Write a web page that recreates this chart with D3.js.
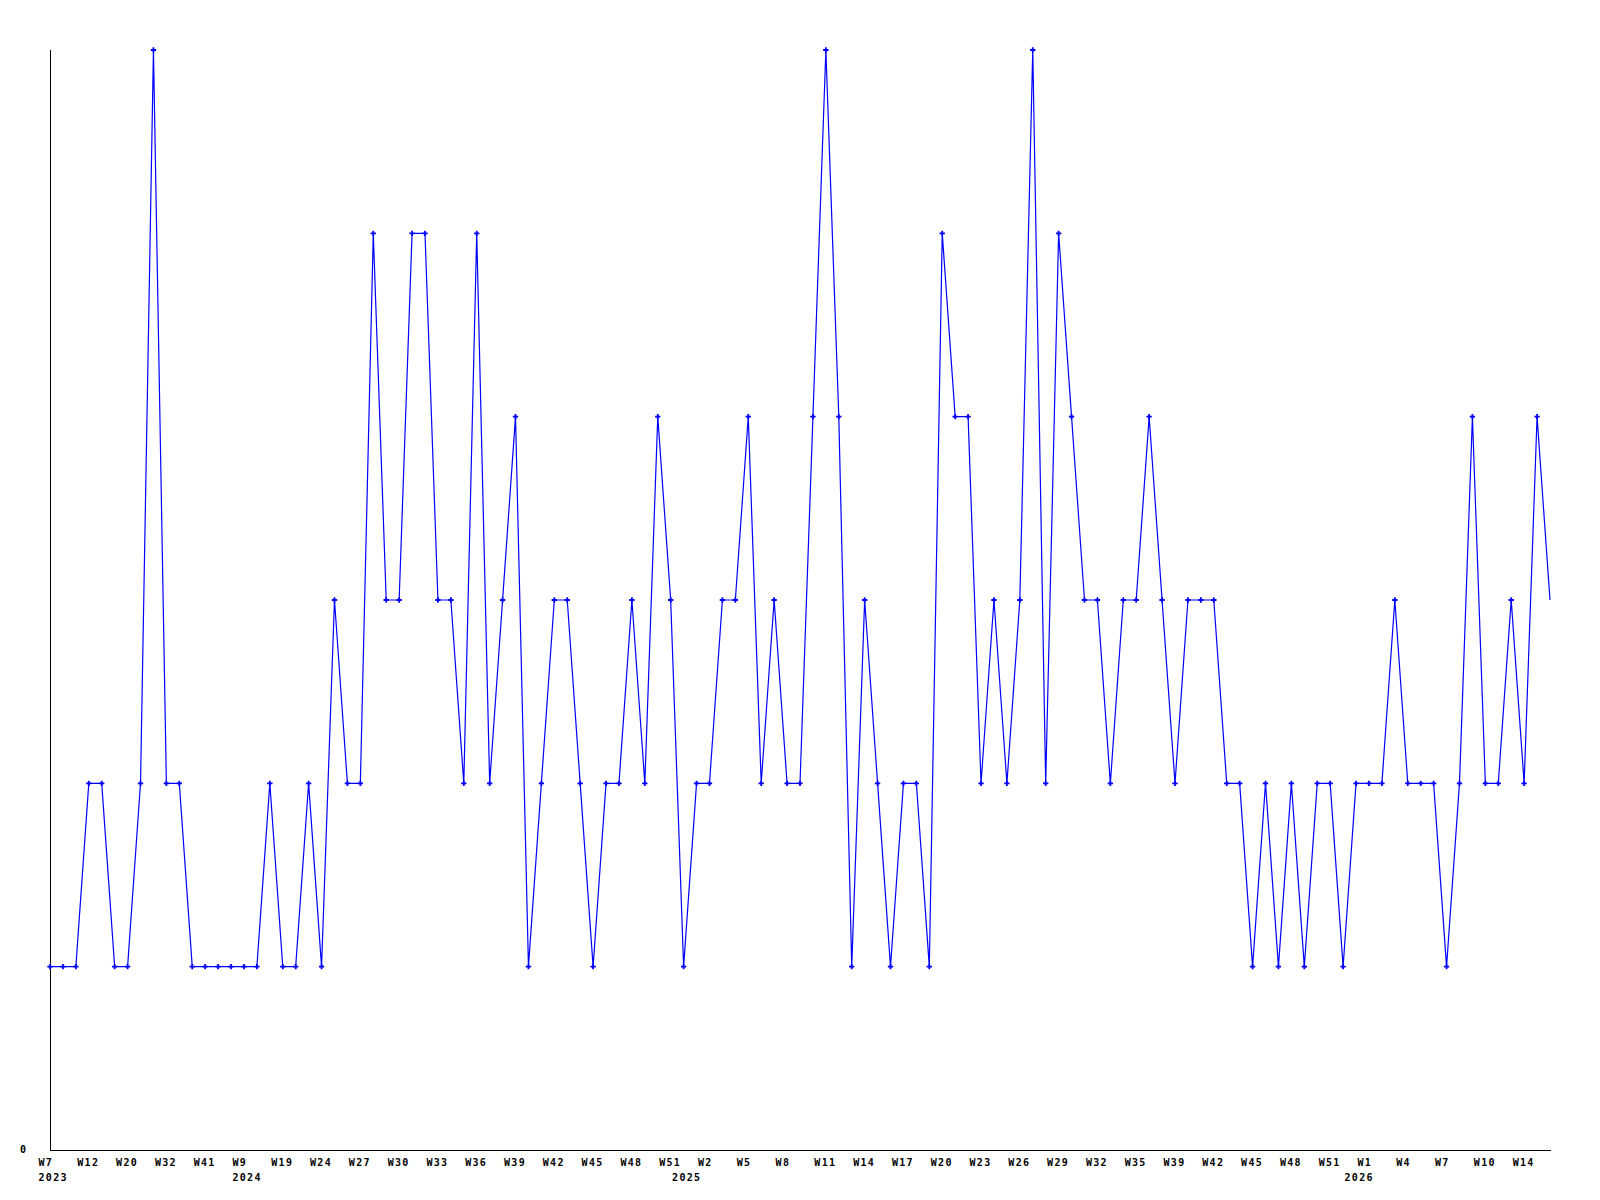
<!DOCTYPE html>
<html>
<head>
<meta charset="utf-8">
<script src="https://cdn.jsdelivr.net/npm/d3@7"></script>
<style>
  body { margin: 0; background: #fff; }
  svg text { font-family: "DejaVu Sans Mono", monospace; font-weight: bold; font-size: 10px; letter-spacing: 1.3px; fill: #000; }
</style>
</head>
<body>
<svg width="1600" height="1200"></svg>
<script>
// weekly counts, one per point
var values = [
    1, 1, 1, 2, 2, 1, 1, 2, 6, 2,
    2, 1, 1, 1, 1, 1, 1, 2, 1, 1,
    2, 1, 3, 2, 2, 5, 3, 3, 5, 5,
    3, 3, 2, 5, 2, 3, 4, 1, 2, 3,
    3, 2, 1, 2, 2, 3, 2, 4, 3, 1,
    2, 2, 3, 3, 4, 2, 3, 2, 2, 4,
    6, 4, 1, 3, 2, 1, 2, 2, 1, 5,
    4, 4, 2, 3, 2, 3, 6, 2, 5, 4,
    3, 3, 2, 3, 3, 4, 3, 2, 3, 3,
    3, 2, 2, 1, 2, 1, 2, 1, 2, 2,
    1, 2, 2, 2, 3, 2, 2, 2, 1, 2,
    4, 2, 2, 3, 2, 4, 3
];

// a week label on every third point
var tickLabels = [
    "W7", "W12", "W20", "W32", "W41",
    "W9", "W19", "W24", "W27", "W30", "W33", "W36", "W39", "W42", "W45", "W48", "W51",
    "W2", "W5", "W8", "W11", "W14", "W17", "W20", "W23", "W26", "W29", "W32", "W35", "W39", "W42", "W45", "W48", "W51",
    "W1", "W4", "W7", "W10", "W14"
];
var tickStep = 3;

var years = ["2023", "2024", "2025", "2026"];
var yearIndex = [0, 15, 49, 101];

var svg = d3.select("svg");
var plotLeft = 50, plotRight = 1550, plotTop = 50, plotBottom = 1150;

var xs = d3.scaleLinear().domain([0, values.length - 1]).range([plotLeft, plotRight]);
var ys = d3.scaleLinear().domain([0, 6]).range([plotBottom, plotTop]);

// axes
svg.append("line")
    .attr("x1", plotLeft + 0.5).attr("x2", plotLeft + 0.5)
    .attr("y1", plotTop).attr("y2", plotBottom + 1)
    .attr("stroke", "#000").attr("shape-rendering", "crispEdges");
svg.append("line")
    .attr("x1", plotLeft).attr("x2", plotRight + 1)
    .attr("y1", plotBottom + 0.5).attr("y2", plotBottom + 0.5)
    .attr("stroke", "#000").attr("shape-rendering", "crispEdges");

svg.append("text")
    .attr("x", 20).attr("y", ys(0) + 3)
    .text("0");

// week labels
svg.append("g").selectAll("text")
    .data(tickLabels)
    .enter().append("text")
        .attr("x", function(d, i) { return xs(i * tickStep) - 11.5; })
        .attr("y", 1166)
        .text(function(d) { return d; });

// year labels
svg.append("g").selectAll("text")
    .data(years)
    .enter().append("text")
        .attr("x", function(d, i) { return xs(yearIndex[i]) - 11.5; })
        .attr("y", 1181)
        .text(function(d) { return d; });

var line = d3.line()
    .x(function(d, i) { return xs(i); })
    .y(function(d) { return ys(d); });

svg.append("path")
    .datum(values)
    .attr("d", line)
    .attr("fill", "none")
    .attr("stroke", "#0000ff")
    .attr("stroke-width", 1.2);

// markers (last point has none)
svg.append("g").selectAll("path")
    .data(values.slice(0, values.length - 1))
    .enter().append("path")
        .attr("transform", function(d, i) { return "translate(" + xs(i) + "," + ys(d) + ")"; })
        .attr("d", d3.symbol().type(d3.symbolCross).size(16))
        .attr("fill", "#0000ff");
</script>
</body>
</html>
